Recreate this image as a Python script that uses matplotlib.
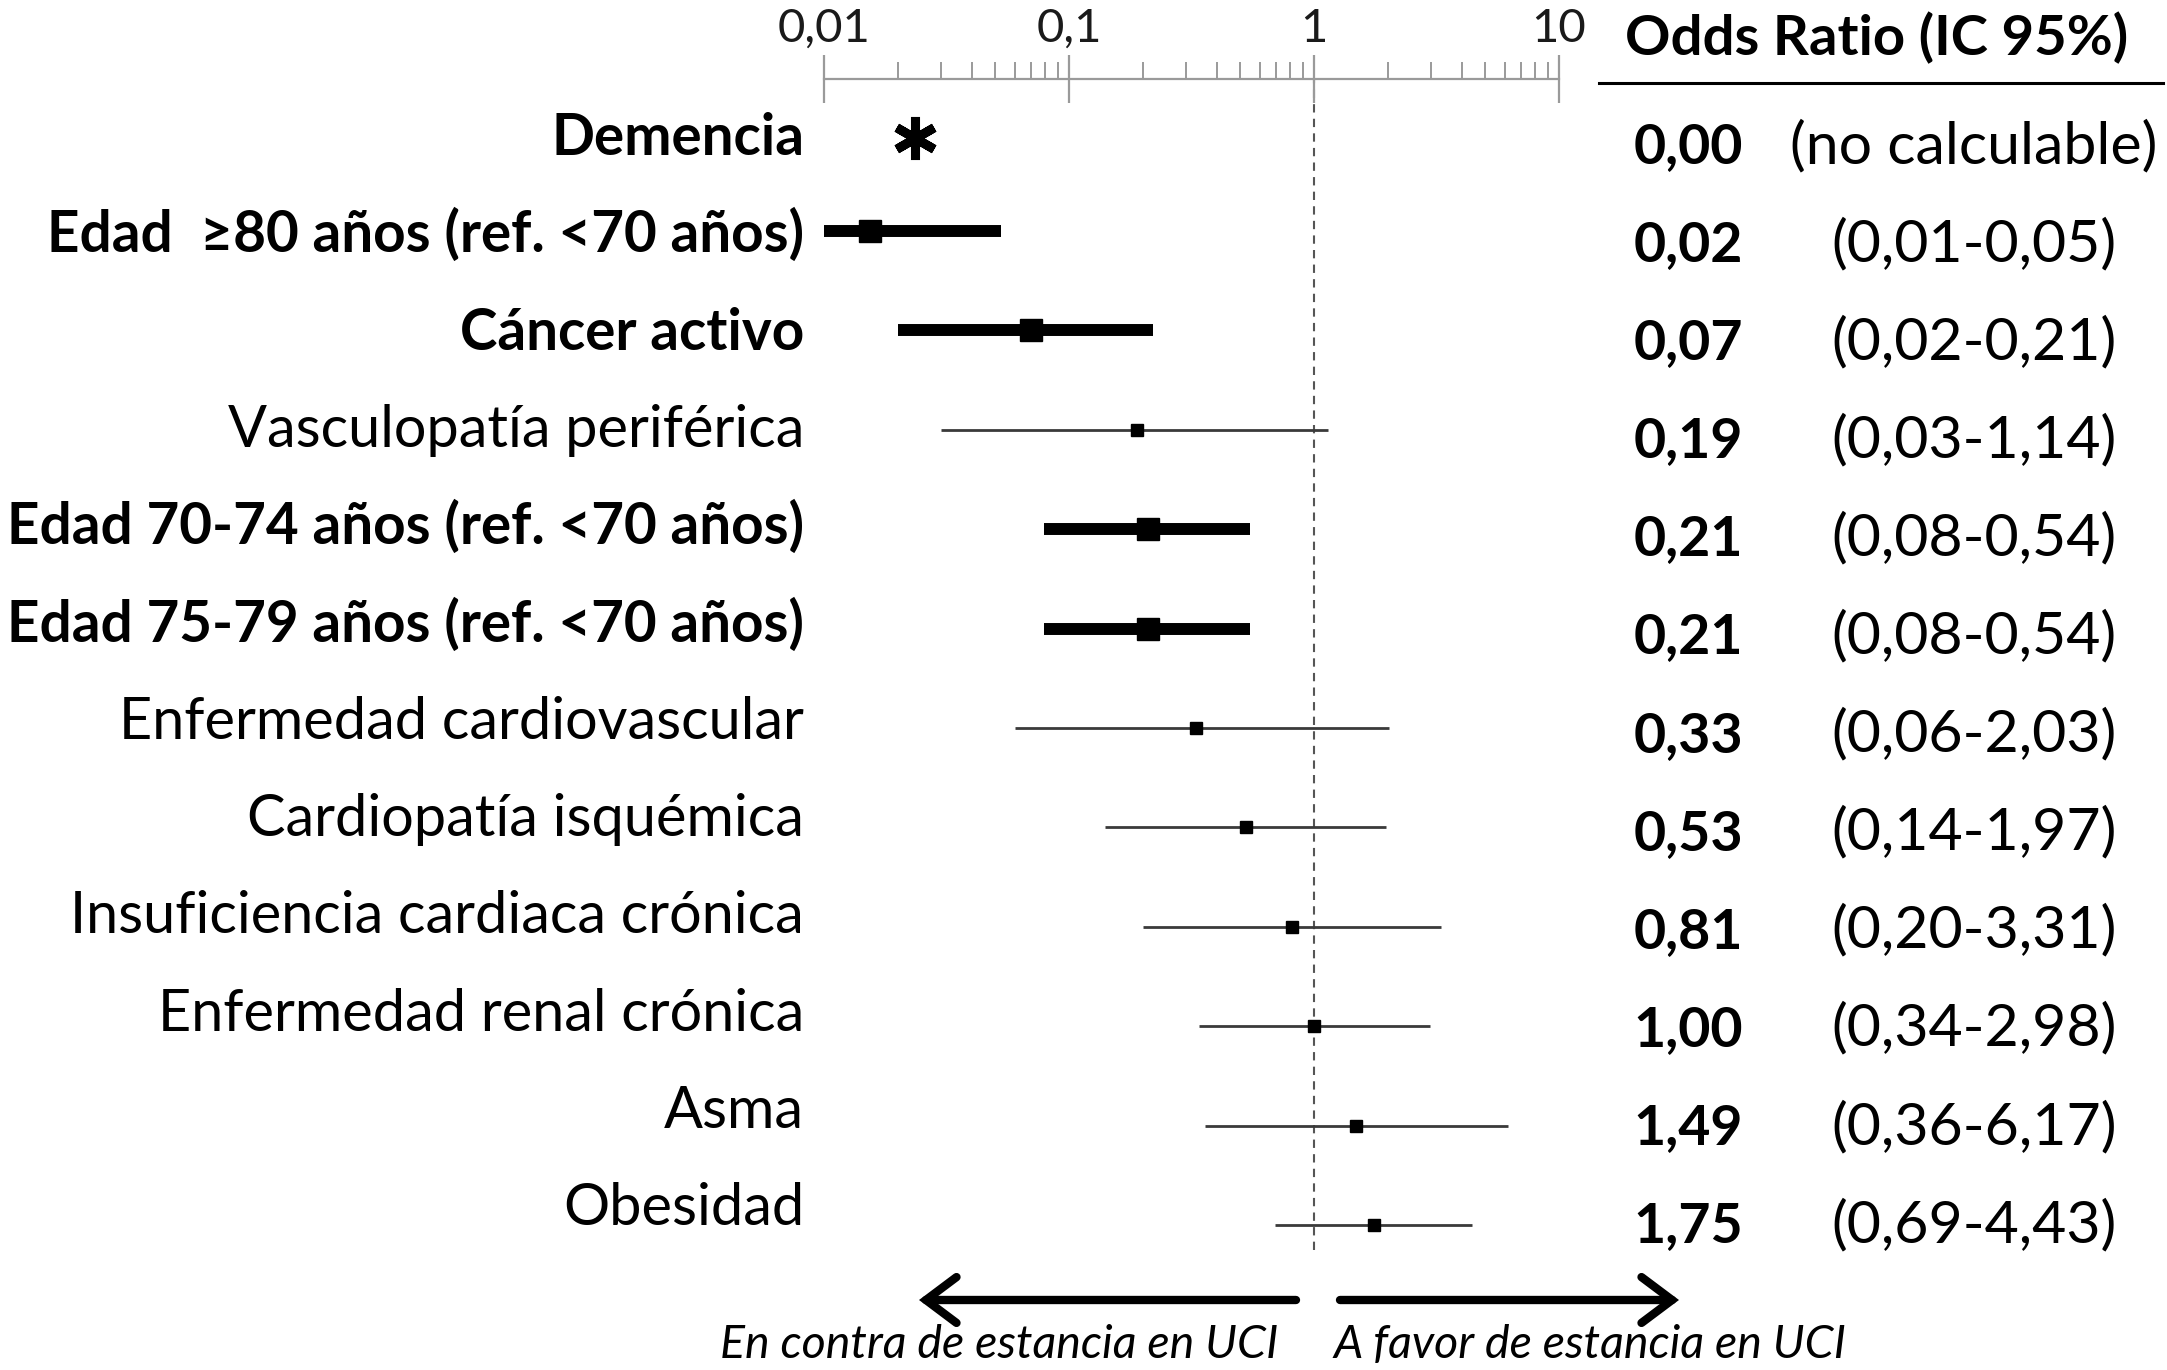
"""Forest plot: odds ratios for ICU stay (recreated with matplotlib)."""

import matplotlib

matplotlib.use("Agg")
import matplotlib.pyplot as plt
import numpy as np
from matplotlib.ticker import FixedLocator, NullFormatter, LogLocator

plt.rcParams["font.family"] = ["Lato", "DejaVu Sans"]

# ---- data -------------------------------------------------------------
labels = [
    "Demencia",
    "Edad  \u226580 años (ref. <70 años)",
    "Cáncer activo",
    "Vasculopatía periférica",
    "Edad 70-74 años (ref. <70 años)",
    "Edad 75-79 años (ref. <70 años)",
    "Enfermedad cardiovascular",
    "Cardiopatía isquémica",
    "Insuficiencia cardiaca crónica",
    "Enfermedad renal crónica",
    "Asma",
    "Obesidad",
]
significant = [True, True, True, False, True, True, False, False, False, False, False, False]
or_text = ["0,00", "0,02", "0,07", "0,19", "0,21", "0,21", "0,33", "0,53", "0,81", "1,00", "1,49", "1,75"]
ci_text = [
    "(no calculable)", "(0,01-0,05)", "(0,02-0,21)", "(0,03-1,14)", "(0,08-0,54)", "(0,08-0,54)",
    "(0,06-2,03)", "(0,14-1,97)", "(0,20-3,31)", "(0,34-2,98)", "(0,36-6,17)", "(0,69-4,43)",
]
# values as drawn (first row not estimable)
or_point = [np.nan, 0.0154, 0.070, 0.19, 0.21, 0.21, 0.33, 0.53, 0.81, 1.00, 1.49, 1.75]
ci_low = [np.nan, 0.0096, 0.020, 0.030, 0.079, 0.079, 0.06, 0.14, 0.20, 0.34, 0.36, 0.69]
ci_high = [np.nan, 0.053, 0.22, 1.14, 0.55, 0.55, 2.03, 1.97, 3.31, 2.98, 6.17, 4.43]

tick_vals = [0.01, 0.1, 1, 10]
tick_text = ["0,01", "0,1", "1", "10"]

# ---- layout (pixels of the 2167x1370 canvas) ---------------------------
W, H = 2167, 1370
fig = plt.figure(figsize=(W / 100, H / 100), dpi=100)

bg = fig.add_axes([0, 0, 1, 1])
bg.set_xlim(0, W)
bg.set_ylim(H, 0)
bg.axis("off")

x_left, x_right = 824, 1559
y_top, y_bot = 79, 1250
ax = fig.add_axes([x_left / W, 1 - y_bot / H, (x_right - x_left) / W, (y_bot - y_top) / H])
ax.patch.set_visible(False)
ax.set_xscale("log")
ax.set_xlim(0.01, 10)
ax.set_ylim(y_bot, y_top)
for side in ("left", "right", "bottom"):
    ax.spines[side].set_visible(False)
ax.spines["top"].set_color("#9a9a9a")
ax.spines["top"].set_linewidth(1.6)
ax.yaxis.set_visible(False)
ax.xaxis.set_ticks_position("top")
ax.xaxis.set_major_locator(FixedLocator(tick_vals))
ax.set_xticklabels(tick_text)
ax.xaxis.set_minor_locator(LogLocator(base=10, subs=np.arange(2, 10)))
ax.xaxis.set_minor_formatter(NullFormatter())
ax.tick_params(axis="x", which="major", direction="inout", length=34, width=1.6,
               color="#9a9a9a", labelsize=34, pad=4, labelcolor="#1a1a1a")
ax.tick_params(axis="x", which="minor", direction="out", length=12, width=1.4, color="#9a9a9a")

ax.axvline(1, color="#555555", lw=1.5, ls=(0, (4, 3)), zorder=1)

n = len(labels)
row_y = 131.5 + 99.4 * np.arange(n)
label_base = 155 + 97.3 * np.arange(n)
value_base = 163 + 98.1 * np.arange(n)

for i in range(n):
    if np.isnan(or_point[i]):
        continue
    bold = significant[i]
    ax.plot([ci_low[i], ci_high[i]], [row_y[i], row_y[i]],
            color="black" if bold else "#3a3a3a", lw=8.6 if bold else 2.0,
            solid_capstyle="butt", zorder=3)
    ax.plot(or_point[i], row_y[i], marker="s", ms=16 if bold else 8.5,
            color="black", zorder=4)

# not estimable marker
ax.plot(0.0235, row_y[0] + 6, marker=(6, 2, 0), ms=31, mew=6.5, color="black",
        solid_capstyle="round", zorder=4)

# ---- text columns -----------------------------------------------------
for i in range(n):
    bold = significant[i]
    bg.text(804, label_base[i], labels[i], ha="right", va="baseline",
            fontsize=40.8 if bold else 41.5, fontweight="bold" if bold else "normal")
    bg.text(1688, value_base[i], or_text[i], ha="center", va="baseline",
            fontsize=40, fontweight="bold")
    bg.text(1974, value_base[i], ci_text[i], ha="center", va="baseline", fontsize=42.5)

bg.text(1877, 55, "Odds Ratio (IC 95%)", ha="center", va="baseline",
        fontsize=40.5, fontweight="bold")
bg.plot([1599, 2163], [83, 83], color="black", lw=2.2)

# ---- direction arrows -------------------------------------------------
arrow_kw = dict(arrowstyle="->,head_length=1.0,head_width=0.75", lw=6, color="black",
                mutation_scale=22, capstyle="round", joinstyle="miter",
                shrinkA=0, shrinkB=0)
bg.annotate("", xy=(919, 1300), xytext=(1296, 1300), arrowprops=arrow_kw)
bg.annotate("", xy=(1679, 1300), xytext=(1340, 1300), arrowprops=arrow_kw)
bg.text(1278, 1358, "En contra de estancia en UCI", ha="right", va="baseline",
        fontsize=33.5, style="italic")
bg.text(1334, 1358, "A favor de estancia en UCI", ha="left", va="baseline",
        fontsize=33.5, style="italic")

fig.savefig("out.png", dpi=100)
plt.close(fig)
